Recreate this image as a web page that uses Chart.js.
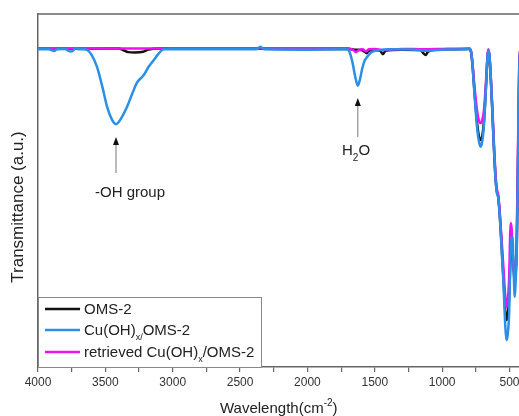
<!DOCTYPE html>
<html lang="en">
<head>
<meta charset="UTF-8">
<title>FTIR spectra</title>
<script src="https://cdn.jsdelivr.net/npm/chart.js@4"></script>
<style>
  html, body { margin: 0; padding: 0; background: #fff; overflow: hidden; }
  #wrap { width: 524px; height: 416px; }
</style>
</head>
<body>
<div id="wrap"><canvas id="graph" width="524" height="416"></canvas></div>
<script>
// wavenumber (cm-1) / transmittance (a.u.)
const omsWn = [4000,3800,3600,3400,3370,3330,3280,3220,3180,3100,2500,2000,1700,1650,1600,1575,1561,1545,1500,1460,1440,1420,1300,1160,1140,1123,1105,1050,900,800,788,776,759,739,725,714,702,689,672,663,657,650,642,627,615,602,592,585,575,565,545,532,523,514,504,491,480,470,461,455,446,436,428,420];
const omsT  = [90.2,90.2,90.2,90.2,89.8,89.2,89.1,89.3,89.9,90.2,90.2,90.1,90.1,89.9,89.8,89.3,88.9,89.6,89.8,89.6,88.6,89.6,89.9,89.8,88.9,88.4,89.3,89.9,90,90.1,89.6,86,77.5,68.5,65,64.3,65.5,70,81.5,88,89.6,88.3,84,72,61.5,52.5,49.3,48.5,44.5,38.5,25,16,13.3,14.5,19,32,34,28,23.8,26,35,62,84,90];

const cuWn = [4000,3920,3880,3860,3800,3760,3740,3720,3700,3660,3634,3600,3562,3520,3487,3450,3421,3390,3339,3300,3264,3215,3180,3140,3100,3067,3000,2500,2380,2350,2320,2000,1710,1692,1667,1643,1626,1610,1593,1575,1556,1530,1500,1457,1400,1200,1130,1000,820,800,788,776,759,739,725,714,702,689,672,663,657,650,642,627,615,602,592,585,575,565,545,532,523,514,504,491,478,470,461,455,446,436,428,420];
const cuT  = [90,90,89.5,90,90.1,89.4,89.6,90.4,90,90,89.8,88.3,85,79,73.7,70,68.8,70,73.7,77.5,80.6,82.7,85,87,89,90,90,90,90,90.7,90,89.9,90,89.6,86.5,81.8,79.7,81.5,84.6,86.8,87.9,89,89.6,89.8,90,89.9,89.6,89.9,90,90.2,89.8,86,76.6,67.1,63.5,62.4,64,69.1,81.3,88,89.8,88.5,84.1,72,61.5,52.1,49,48.2,44,38,23.8,12,7.6,9,14.2,33.1,36.9,28,19.9,24,33.1,60,84,90];

const retWn = [4000,3800,3600,3300,3000,2500,2000,1700,1660,1640,1620,1590,1565,1545,1500,1440,1300,1130,1000,800,788,776,759,739,725,714,702,689,672,663,657,650,642,627,615,602,592,585,575,565,545,532,523,514,504,491,484,475,465,455,446,436,428,420];
const retT  = [90.3,90.3,90.3,90.2,90.3,90.3,90.3,90.3,89.8,89.2,89.8,90,89.4,90,90.1,89.8,90.1,90,90.1,90.2,89.8,86.5,79,72,69.5,69.1,70,73,82.5,88.5,90,88.5,84.5,73,62.5,53.5,50,49,45,39.5,28,20,17,18.5,24,40.8,39,30,26.6,28,38,65,86,90];

const xTicks = [4000,3750,3500,3250,3000,2750,2500,2250,2000,1750,1500,1250,1000,750,500];

const FONT = '"Liberation Sans", Arial, sans-serif';
const pts = (xs, ys) => xs.map((x, i) => ({x: x, y: ys[i]}));

// extra drawing: frame top, axis titles, arrows, legend
const extras = {
  id: 'extras',
  afterDraw(chart) {
    const ctx = chart.ctx;
    const a = chart.chartArea;
    const xs = chart.scales.x;
    ctx.save();
    // top frame
    ctx.strokeStyle = '#666';
    ctx.lineWidth = 1.5;
    ctx.beginPath();
    ctx.moveTo(a.left - 0.75, a.top);
    ctx.lineTo(a.right + 2, a.top);
    ctx.stroke();

    ctx.fillStyle = '#222';
    // y title
    ctx.save();
    ctx.translate(23, 207);
    ctx.rotate(-Math.PI / 2);
    ctx.font = '17px ' + FONT;
    ctx.textAlign = 'center';
    ctx.textBaseline = 'alphabetic';
    ctx.fillText('Transmittance (a.u.)', 0, 0);
    ctx.restore();

    // x title with superscript
    ctx.font = '15px ' + FONT;
    ctx.textAlign = 'left';
    let tx = 220, ty = 413;
    const t1 = 'Wavelength(cm';
    ctx.fillText(t1, tx, ty);
    tx += ctx.measureText(t1).width;
    ctx.font = '10px ' + FONT;
    ctx.fillText('-2', tx, ty - 7);
    tx += ctx.measureText('-2').width;
    ctx.font = '15px ' + FONT;
    ctx.fillText(')', tx, ty);

    // arrows
    function arrow(x, yTip, yBase) {
      ctx.strokeStyle = '#777';
      ctx.lineWidth = 1;
      ctx.beginPath();
      ctx.moveTo(x, yBase);
      ctx.lineTo(x, yTip + 6);
      ctx.stroke();
      ctx.fillStyle = '#111';
      ctx.beginPath();
      ctx.moveTo(x, yTip);
      ctx.lineTo(x - 3, yTip + 8);
      ctx.lineTo(x + 3, yTip + 8);
      ctx.closePath();
      ctx.fill();
    }
    arrow(xs.getPixelForValue(3421), 137, 173);
    arrow(xs.getPixelForValue(1626), 98, 137);

    ctx.fillStyle = '#222';
    ctx.font = '15px ' + FONT;
    ctx.fillText('-OH group', 95, 197);
    ctx.fillText('H', 342, 155);
    let hx = 342 + ctx.measureText('H').width;
    ctx.font = '10px ' + FONT;
    ctx.fillText('2', hx, 161);
    hx += ctx.measureText('2').width;
    ctx.font = '15px ' + FONT;
    ctx.fillText('O', hx, 155);

    // legend
    const lx = a.left, ly = 297, lw = 223, lh = a.bottom - 297;
    ctx.fillStyle = '#fff';
    ctx.fillRect(lx, ly, lw, lh);
    ctx.strokeStyle = '#888';
    ctx.lineWidth = 1;
    ctx.strokeRect(lx + 0.5, ly + 0.5, lw, lh);
    const rows = [
      {c: '#111', y: 309, parts: [['OMS-2', 0]]},
      {c: '#2a8fe6', y: 330, parts: [['Cu(OH)', 0], ['x/', 1], ['OMS-2', 0]]},
      {c: '#f010f0', y: 352, parts: [['retrieved Cu(OH)', 0], ['x', 1], ['/OMS-2', 0]]}
    ];
    rows.forEach(r => {
      ctx.strokeStyle = r.c;
      ctx.lineWidth = 2.5;
      ctx.beginPath();
      ctx.moveTo(45, r.y);
      ctx.lineTo(80, r.y);
      ctx.stroke();
      ctx.fillStyle = '#222';
      let px = 84;
      r.parts.forEach(p => {
        if (p[1]) {
          ctx.font = '9px ' + FONT;
          ctx.fillText(p[0], px, r.y + 10);
        } else {
          ctx.font = '15px ' + FONT;
          ctx.fillText(p[0], px, r.y + 5);
        }
        px += ctx.measureText(p[0]).width;
      });
    });
    ctx.restore();
  }
};

const lineDs = (label, data, color, order) => ({
  label: label,
  data: data,
  borderColor: color,
  backgroundColor: color,
  borderWidth: 2.5,
  pointRadius: 0,
  cubicInterpolationMode: 'monotone',
  order: order
});

new Chart(document.getElementById('graph').getContext('2d'), {
  type: 'line',
  data: {
    datasets: [
      lineDs('OMS-2', pts(omsWn, omsT), '#111', 2),
      lineDs('retrieved Cu(OH)x/OMS-2', pts(retWn, retT), '#f010f0', 1),
      lineDs('Cu(OH)x/OMS-2', pts(cuWn, cuT), '#2a8fe6', 0)
    ]
  },
  options: {
    responsive: false,
    animation: false,
    layout: { padding: { top: 14, right: 1, left: 0, bottom: 0 } },
    plugins: { legend: { display: false }, tooltip: { enabled: false } },
    scales: {
      x: {
        type: 'linear',
        reverse: true,
        min: 400,
        max: 4000,
        afterFit: s => { s.height = 49; },
        afterBuildTicks: s => { s.ticks = xTicks.map(v => ({value: v})); },
        grid: { drawOnChartArea: false, drawTicks: true, tickLength: 5, color: '#666', lineWidth: 1.2 },
        border: { display: true, color: '#666', width: 1.5 },
        ticks: {
          autoSkip: false,
          maxRotation: 0,
          padding: 3,
          color: '#333',
          font: { family: FONT, size: 12 },
          callback: v => (v % 500 === 0 ? String(v) : '')
        }
      },
      y: {
        min: 0,
        max: 100,
        afterFit: s => { s.width = 38; },
        grid: { display: false, drawTicks: false },
        border: { display: true, color: '#666', width: 1.5 },
        ticks: { display: false }
      }
    }
  },
  plugins: [extras]
});
</script>
</body>
</html>
